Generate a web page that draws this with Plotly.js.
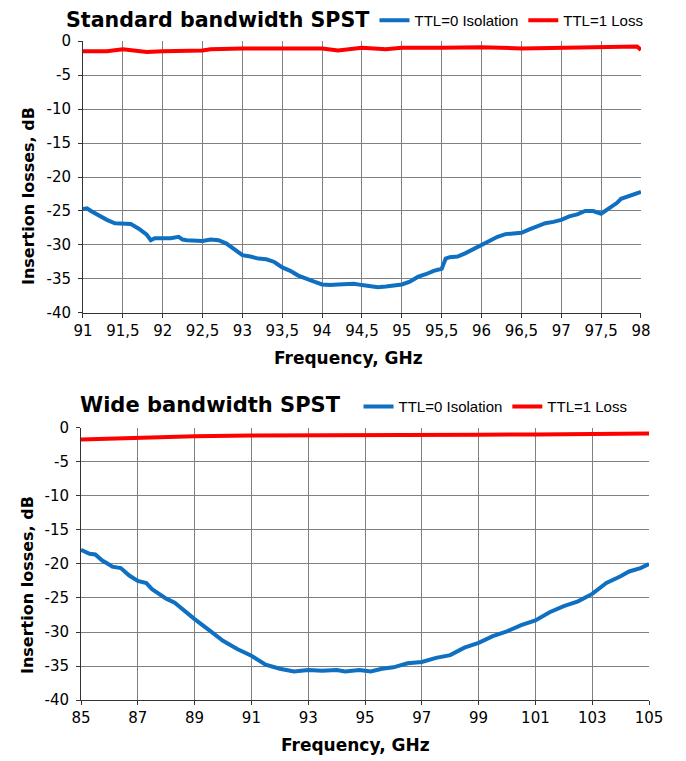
<!DOCTYPE html>
<html>
<head>
<meta charset="utf-8">
<script src="https://cdn.plot.ly/plotly-3.0.1.min.js"></script>
<style>
  body { margin: 0; background: #fff; }
  #graph { width: 686px; height: 761px; }
</style>
</head>
<body>
<div id="graph"></div>
<script>
// standard bandwidth SPST, 91..98 GHz
var stdFreq = [91.0, 91.05, 91.1, 91.2, 91.3, 91.4, 91.5, 91.6, 91.7, 91.8, 91.85, 91.9, 92.0, 92.1, 92.2, 92.25,
  92.3, 92.4, 92.5, 92.6, 92.7, 92.8, 92.9, 93.0, 93.1, 93.2, 93.3, 93.4, 93.5, 93.6, 93.7, 93.8, 93.9,
  94.0, 94.1, 94.2, 94.3, 94.4, 94.5, 94.6, 94.7, 94.8, 94.9, 95.0, 95.1, 95.2, 95.3, 95.4, 95.5, 95.55,
  95.6, 95.7, 95.8, 95.9, 96.0, 96.1, 96.2, 96.3, 96.4, 96.5, 96.6, 96.7, 96.8, 96.9, 97.0, 97.1, 97.2,
  97.3, 97.4, 97.5, 97.6, 97.7, 97.75, 97.8, 97.9, 98.0]
var stdIso = [-24.7, -24.6, -25.0, -25.7, -26.3, -26.8, -26.9, -26.9, -27.6, -28.5, -29.3, -29.0, -29.0, -29.0, -28.8, -29.2,
  -29.3, -29.4, -29.4, -29.2, -29.3, -29.8, -30.6, -31.5, -31.7, -32.0, -32.1, -32.5, -33.3, -33.8, -34.5, -35.0, -35.4,
  -35.8, -35.9, -35.8, -35.7, -35.7, -35.9, -36.1, -36.2, -36.1, -36.0, -35.8, -35.4, -34.7, -34.3, -33.8, -33.5, -32.0,
  -31.8, -31.7, -31.2, -30.6, -29.9, -29.3, -28.8, -28.4, -28.3, -28.2, -27.7, -27.3, -26.8, -26.6, -26.3, -25.8, -25.5,
  -25.0, -25.0, -25.4, -24.6, -23.8, -23.2, -23.0, -22.7, -22.2]
var stdLossFreq = [91.0, 91.3, 91.5, 91.7, 91.8, 92.0, 92.2, 92.5, 92.6, 92.8, 93.0, 93.5, 94.0, 94.2, 94.5,
  94.8, 95.0, 95.5, 96.0, 96.5, 97.0, 97.5, 97.8, 97.95, 98.0]
var stdLoss = [-1.5, -1.5, -1.2, -1.4, -1.6, -1.5, -1.5, -1.4, -1.2, -1.1, -1.1, -1.1, -1.1, -1.4, -1.0,
  -1.2, -1.0, -1.0, -0.9, -1.1, -1.0, -1.0, -0.8, -0.8, -1.3]

// wide bandwidth SPST, 85..105 GHz
var wideFreq = [85.0, 85.3, 85.5, 85.75, 86.0, 86.1, 86.4, 86.7, 87.0, 87.3, 87.5, 87.8, 88.0, 88.3, 88.6,
  89.0, 89.5, 90.0, 90.5, 91.0, 91.5, 92.0, 92.5, 93.0, 93.5, 94.0, 94.3, 94.8, 95.2, 95.6, 96.0, 96.5,
  97.0, 97.5, 98.0, 98.5, 99.0, 99.5, 100.0, 100.5, 101.0, 101.5, 102.0, 102.5, 103.0, 103.5, 104.0,
  104.3, 104.7, 105.0]
var wideIso = [-17.9, -18.5, -18.6, -19.5, -20.1, -20.4, -20.6, -21.7, -22.5, -22.8, -23.7, -24.5, -25.1, -25.7, -26.8,
  -28.1, -29.7, -31.3, -32.5, -33.5, -34.8, -35.4, -35.8, -35.6, -35.7, -35.6, -35.8, -35.6, -35.8, -35.4, -35.2, -34.6,
  -34.4, -33.8, -33.4, -32.3, -31.6, -30.6, -29.9, -29.0, -28.3, -27.1, -26.2, -25.5, -24.4, -22.8, -21.8,
  -21.1, -20.6, -20.0]
var wideLossFreq = [85, 87, 89, 91, 93, 95, 97, 99, 101, 103, 105]
var wideLoss = [-1.7, -1.4, -1.2, -1.1, -1.1, -1.1, -1.05, -1.0, -0.95, -0.9, -0.8]

var yTickVals = [0, -5, -10, -15, -20, -25, -30, -35, -40]
var yTickText = ["0", "-5", "-10", "-15", "-20", "-25", "-30", "-35", "-40"]
var stdTickVals = [91, 91.5, 92, 92.5, 93, 93.5, 94, 94.5, 95, 95.5, 96, 96.5, 97, 97.5, 98]
var stdTickText = ["91", "91,5", "92", "92,5", "93", "93,5", "94", "94,5", "95", "95,5", "96", "96,5", "97", "97,5", "98"]
var wideTickVals = [85, 87, 89, 91, 93, 95, 97, 99, 101, 103, 105]
var wideTickText = ["85", "87", "89", "91", "93", "95", "97", "99", "101", "103", "105"]

var blue = "#0f70c2"
var red = "#ff0000"

var graphData = [
  {x: stdFreq, y: stdIso, type: "scatter", mode: "lines", name: "TTL=0 Isolation",
   line: {color: blue, width: 4}, xaxis: "x", yaxis: "y", legend: "legend"},
  {x: stdLossFreq, y: stdLoss, type: "scatter", mode: "lines", name: "TTL=1 Loss",
   line: {color: red, width: 4}, xaxis: "x", yaxis: "y", legend: "legend"},
  {x: wideFreq, y: wideIso, type: "scatter", mode: "lines", name: "TTL=0 Isolation",
   line: {color: blue, width: 4}, xaxis: "x2", yaxis: "y2", legend: "legend2"},
  {x: wideLossFreq, y: wideLoss, type: "scatter", mode: "lines", name: "TTL=1 Loss",
   line: {color: red, width: 4}, xaxis: "x2", yaxis: "y2", legend: "legend2"}
]

var tickFont = {family: "DejaVu Sans", size: 15, color: "#000"}
var boldFont = {family: "DejaVu Sans", size: 17, color: "#000", weight: "bold"}
var yTitleFont = {family: "DejaVu Sans", size: 16, color: "#000", weight: "bold"}
var legFont = {family: "Liberation Sans", size: 15, color: "#000"}

function xAx(range, vals, text, dom, anchor) {
  return {
    domain: dom, range: range, anchor: anchor, tickmode: "array", tickvals: vals, ticktext: text,
    showgrid: true, gridcolor: "#808080", gridwidth: 1, zeroline: false,
    showline: true, linecolor: "#333", linewidth: 1, ticks: "outside", ticklen: 4, tickcolor: "#333",
    tickfont: tickFont
  }
}
function yAx(dom, anchor) {
  return {
    domain: dom, range: [-40, 0], anchor: anchor, tickmode: "array", tickvals: yTickVals, ticktext: yTickText,
    showgrid: true, gridcolor: "#808080", gridwidth: 1, zeroline: false,
    showline: true, linecolor: "#333", linewidth: 1, ticks: "outside", ticklen: 4, tickcolor: "#333",
    tickfont: tickFont, ticklabelstandoff: 4
  }
}

function note(text, x, y, font, opts) {
  var a = {text: text, xref: "paper", yref: "paper", x: x, y: y, xanchor: "center", yanchor: "middle",
    showarrow: false, font: font}
  for (var k in opts) a[k] = opts[k]
  return a
}

var layout = {
  width: 686, height: 761,
  margin: {l: 81, r: 37, t: 0, b: 61},
  paper_bgcolor: "#fff", plot_bgcolor: "#fff",
  xaxis: xAx([91, 98], stdTickVals, stdTickText, [0.0035, 0.9859], "y"),
  yaxis: yAx([0.5529, 0.9414], "x"),
  xaxis2: xAx([85, 105], wideTickVals, wideTickText, [0, 1], "y2"),
  yaxis2: yAx([0, 0.3886], "x2"),
  legend: {orientation: "h", x: 0.5167, y: 0.9707, xanchor: "left", yanchor: "middle",
    font: legFont, bgcolor: "rgba(0,0,0,0)", itemwidth: 30, tracegroupgap: 0},
  legend2: {orientation: "h", x: 0.4886, y: 0.4190, xanchor: "left", yanchor: "middle",
    font: legFont, bgcolor: "rgba(0,0,0,0)", itemwidth: 30, tracegroupgap: 0},
  annotations: [
    note("Standard bandwidth SPST", -0.0299, 0.9721,
      {family: "DejaVu Sans", size: 20.6, color: "#000", weight: "bold"}, {xanchor: "left"}),
    note("Wide bandwidth SPST", -0.0053, 0.4214,
      {family: "DejaVu Sans", size: 21, color: "#000", weight: "bold"}, {xanchor: "left"}),
    note("Insertion losses, dB", -0.0933, 0.72, yTitleFont, {textangle: -90}),
    note("Insertion losses, dB", -0.0933, 0.1643, yTitleFont, {textangle: -90}),
    note("Frequency, GHz", 0.4718, 0.4886, boldFont),
    note("Frequency, GHz", 0.4824, -0.0643, boldFont)
  ]
}

Plotly.newPlot("graph", graphData, layout, {displayModeBar: false, staticPlot: true})
</script>
</body>
</html>
